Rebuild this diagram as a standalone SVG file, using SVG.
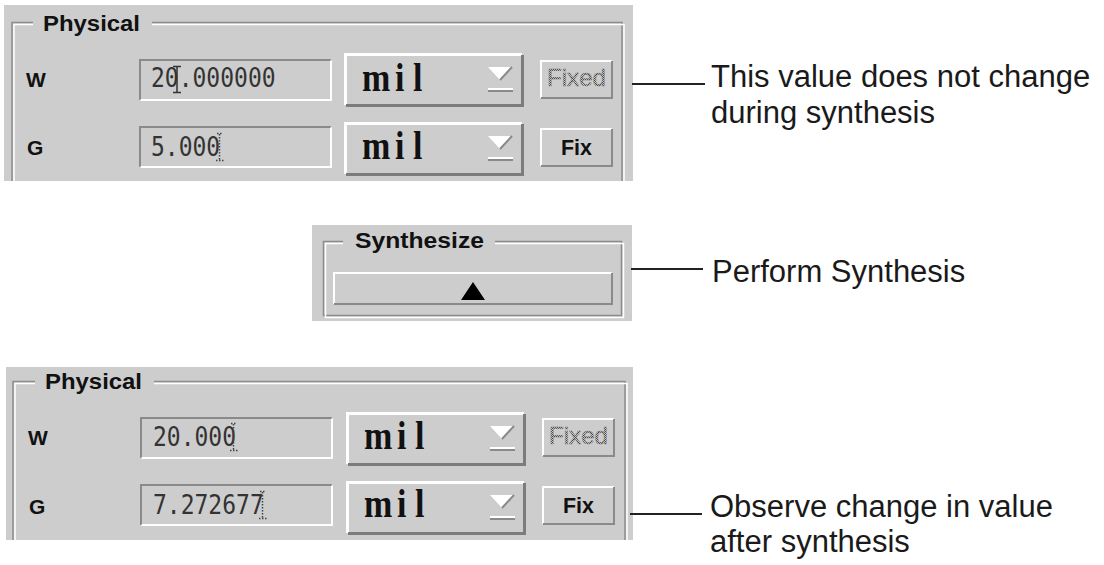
<svg xmlns="http://www.w3.org/2000/svg" xmlns:xlink="http://www.w3.org/1999/xlink" width="1104" height="565" viewBox="0 0 1104 565">
<style>
.bg{fill:#cdcdcd}
.etch-d{fill:none;stroke:#8c8c8c;stroke-width:1.5}
.etch-l{fill:none;stroke:#ffffff;stroke-width:1.5}
.lbl{font-family:"Liberation Sans",Arial,sans-serif;font-weight:bold;fill:#111}
.val{font-family:"DejaVu Sans Mono","Liberation Mono",monospace;font-size:23px;fill:#333}
.unit{font-family:"Liberation Serif","Times New Roman",serif;font-weight:bold;font-size:34px;fill:#111}
.call{font-family:"Liberation Sans",Arial,sans-serif;font-size:31px;fill:#1a1a1a}
.conn{stroke:#222;stroke-width:2;fill:none}
.cur{fill:none;stroke:#333;stroke-width:1.5}
.dcur{fill:none;stroke:#444;stroke-width:1.5;stroke-dasharray:1.5 1.5}
</style>
<defs>
<pattern id="stip" width="2" height="2" patternUnits="userSpaceOnUse">
<rect x="0" y="0" width="1" height="1" fill="#444"/>
<rect x="1" y="1" width="1" height="1" fill="#444"/>
</pattern>
<g id="field">
<rect x="0" y="0" width="193" height="42" class="bg"/>
<path d="M1,41 V1 H192" fill="none" stroke="#8a8a8a" stroke-width="2"/>
<path d="M1.5,41 H192 V1.5" fill="none" stroke="#ffffff" stroke-width="2"/>
</g>
<g id="dropdown">
<rect x="0" y="0" width="180" height="54" class="bg"/>
<path d="M1.5,52 V1.5 H178" fill="none" stroke="#ffffff" stroke-width="3"/>
<path d="M2,52.5 H178.5 V2" fill="none" stroke="#7c7c7c" stroke-width="3"/>
<polygon points="144,14 168,14 156,27" fill="#ffffff"/>
<path d="M168,14 L156,27" stroke="#8a8a8a" stroke-width="2"/>
<rect x="144" y="35" width="25" height="2" fill="#ffffff"/>
<rect x="144" y="37" width="25" height="2" fill="#8a8a8a"/>
</g>
<g id="btn">
<rect x="0" y="0" width="73" height="39" class="bg"/>
<path d="M1,38 V1 H72" fill="none" stroke="#ffffff" stroke-width="2"/>
<path d="M1,38 H72 V1" fill="none" stroke="#8a8a8a" stroke-width="2"/>
</g>
</defs>

<g id="panel-before">
<rect x="4" y="5" width="629" height="176" class="bg"/>
<path class="etch-d" d="M33,22.5 H12 V181 M152,22.5 H622 V181"/>
<path class="etch-l" d="M33,24.5 H14 V181 M152,24.5 H624 V181"/>
<text class="lbl" x="43" y="31" font-size="22" textLength="97" lengthAdjust="spacingAndGlyphs">Physical</text>
<text class="lbl" x="26" y="87" font-size="21">W</text>
<text class="lbl" x="27" y="155" font-size="21">G</text>
<use xlink:href="#field" x="139" y="59"/>
<use xlink:href="#field" x="139" y="126"/>
<text class="val" transform="translate(151,87) scale(1,1.12)">20.000000</text>
<text class="val" transform="translate(151,156) scale(1,1.12)">5.000</text>
<path class="cur" d="M173,66.5 H181 M177,66.5 V92.5 M173,92.5 H181"/>
<path class="dcur" d="M217,133.5 H222 M219.5,134 V160 M216,160.5 H224"/>
<use xlink:href="#dropdown" x="344" y="53"/>
<use xlink:href="#dropdown" x="344" y="122"/>
<text class="unit" transform="translate(0,91) scale(1,1.2)" x="362 395 413" y="0">mil</text>
<text class="unit" transform="translate(0,159) scale(1,1.2)" x="362 395 413" y="0">mil</text>
<use xlink:href="#btn" x="540" y="60"/>
<use xlink:href="#btn" x="540" y="128"/>
<text x="547" y="86" font-family="Liberation Sans, Arial, sans-serif" font-size="24" fill="url(#stip)" stroke="#777" stroke-width="0.4" textLength="59" lengthAdjust="spacingAndGlyphs">Fixed</text>
<text class="lbl" x="561" y="155" font-size="22" textLength="31" lengthAdjust="spacingAndGlyphs">Fix</text>
</g>

<g id="panel-synthesize">
<rect x="312" y="225" width="320" height="96" class="bg"/>
<path class="etch-d" d="M343,241.5 H323.5 V315.5 H621.5 V241.5 H495"/>
<path class="etch-l" d="M343,243.5 H325.5 V317.5 H623.5 V243.5 H495"/>
<text class="lbl" x="355" y="248" font-size="22" textLength="129" lengthAdjust="spacingAndGlyphs">Synthesize</text>
<rect x="333" y="272" width="280" height="33" class="bg"/>
<path d="M334,304 V273 H612" fill="none" stroke="#ffffff" stroke-width="2"/>
<path d="M334,304 H612 V273" fill="none" stroke="#8a8a8a" stroke-width="2"/>
<polygon points="473,282 461,300 485,300" fill="#000"/>
</g>

<g id="panel-after" transform="translate(2,358)">
<rect x="4" y="9" width="627" height="173" class="bg"/>
<path class="etch-d" d="M33,23.5 H11 V182 M152,23.5 H623 V182"/>
<path class="etch-l" d="M33,25.5 H13 V182 M152,25.5 H625 V182"/>
<text class="lbl" x="43" y="31" font-size="22" textLength="97" lengthAdjust="spacingAndGlyphs">Physical</text>
<text class="lbl" x="26" y="87" font-size="21">W</text>
<text class="lbl" x="27" y="156" font-size="21">G</text>
<use xlink:href="#field" x="138" y="59"/>
<use xlink:href="#field" x="138" y="126"/>
<text class="val" transform="translate(151,88) scale(1,1.12)">20.000</text>
<text class="val" transform="translate(151,156) scale(1,1.12)">7.272677</text>
<path class="dcur" d="M229,65.5 H234 M231.5,66 V92 M228,92.5 H236"/>
<path class="dcur" d="M258,133.5 H263 M260.5,134 V160 M257,160.5 H265"/>
<use xlink:href="#dropdown" x="344" y="54"/>
<use xlink:href="#dropdown" x="344" y="123"/>
<text class="unit" transform="translate(0,91) scale(1,1.2)" x="362 395 413" y="0">mil</text>
<text class="unit" transform="translate(0,159) scale(1,1.2)" x="362 395 413" y="0">mil</text>
<use xlink:href="#btn" x="540" y="60"/>
<use xlink:href="#btn" x="540" y="128"/>
<text x="547" y="86" font-family="Liberation Sans, Arial, sans-serif" font-size="24" fill="url(#stip)" stroke="#777" stroke-width="0.4" textLength="59" lengthAdjust="spacingAndGlyphs">Fixed</text>
<text class="lbl" x="561" y="155" font-size="22" textLength="31" lengthAdjust="spacingAndGlyphs">Fix</text>
</g>

<g id="connectors">
<line class="conn" x1="632" y1="84" x2="705" y2="84"/>
<line class="conn" x1="631" y1="269" x2="703" y2="269"/>
<line class="conn" x1="630" y1="514" x2="702" y2="514"/>
</g>

<g id="note-fixed">
<text class="call" x="711" y="87">This value does not change</text>
<text class="call" x="711" y="123">during synthesis</text>
</g>
<g id="note-synthesis">
<text class="call" x="712" y="282">Perform Synthesis</text>
</g>
<g id="note-observe">
<text class="call" x="710" y="517">Observe change in value</text>
<text class="call" x="710" y="552">after synthesis</text>
</g>
</svg>
